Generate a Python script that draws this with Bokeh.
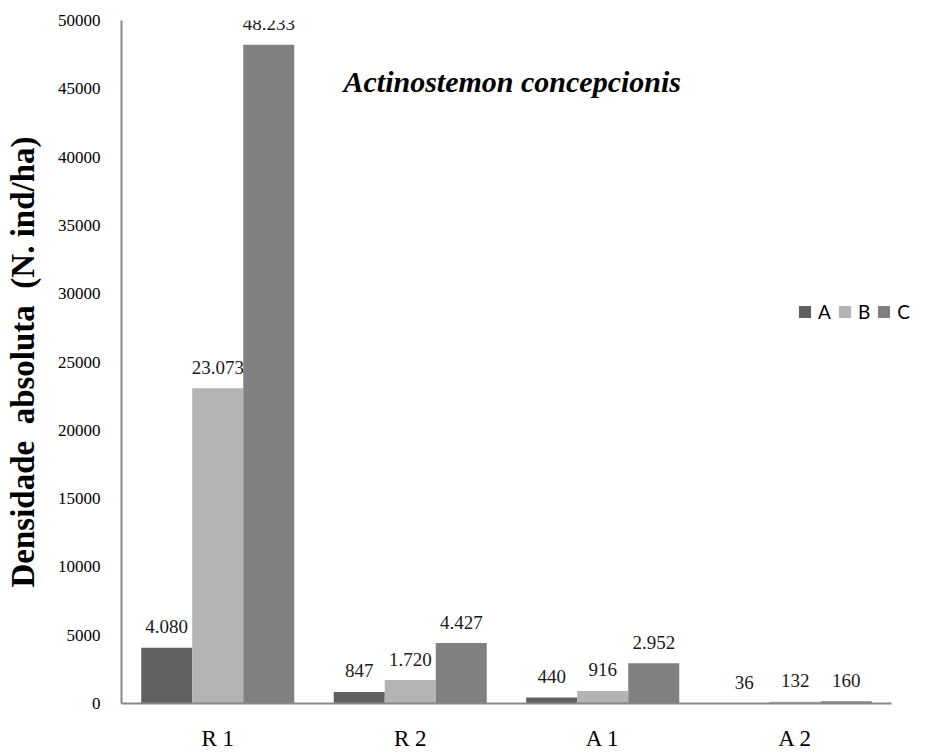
from bokeh.plotting import figure
from bokeh.models import ColumnDataSource, Legend, LegendItem, Label, FixedTicker
from bokeh.transform import dodge
from bokeh.embed import file_html
from bokeh.resources import INLINE
from bokeh.core.properties import value

# ---- data ----
categories = ["R 1", "R 2", "A 1", "A 2"]
series_names = ["A", "B", "C"]
values_A = [4080, 847, 440, 36]
values_B = [23073, 1720, 916, 132]
values_C = [48233, 4427, 2952, 160]
y_ticks = [0, 5000, 10000, 15000, 20000, 25000, 30000, 35000, 40000, 45000, 50000]
title_text = "Actinostemon concepcionis"
y_label = "Densidade \u00a0absoluta \u00a0(N. ind/ha)"

colors = ["#606060", "#b3b3b3", "#808080"]
serif = "Liberation Serif"

# geometry of the page (pixels)
W, H = 924, 753
frame_left, frame_top, axis_right, axis_bottom = 121, 20, 891, 704
n_cat = len(categories)
x_end = n_cat * (W - frame_left) / (axis_right - frame_left)


def fmt(v):
    return f"{v:,}".replace(",", ".")


xpos = [i + 0.5 for i in range(n_cat)]
src = ColumnDataSource(dict(
    x=xpos,
    A=values_A, B=values_B, C=values_C,
    lA=[fmt(v) for v in values_A],
    lB=[fmt(v) for v in values_B],
    lC=[fmt(v) for v in values_C],
))

p = figure(x_range=(0, x_end), y_range=(0, 50000),
           width=W, height=H, output_backend="svg", toolbar_location=None,
           min_border_left=frame_left, min_border_right=0,
           min_border_top=frame_top, min_border_bottom=H - axis_bottom)
p.outline_line_color = None
p.xgrid.grid_line_color = None
p.ygrid.grid_line_color = None

bw = 0.265
offsets = [-bw, 0.0, bw]
renderers = []
for name, col, off in zip(series_names, colors, offsets):
    r = p.vbar(x=dodge("x", off), top=name, width=bw,
               source=src, fill_color=col, line_color=None)
    renderers.append(r)
    p.text(x=dodge("x", off), y=name, text="l" + name,
           source=src, text_align="center", text_baseline="middle",
           y_offset=-21, text_font=value(serif), text_font_size="19px",
           text_color="#1a1a1a")

# axes
for ax in (p.xaxis[0], p.yaxis[0]):
    ax.axis_line_color = "#878787"
    ax.axis_line_width = 2
    ax.major_tick_line_color = None
    ax.minor_tick_line_color = None
    ax.major_tick_out = 0
    ax.major_tick_in = 0
    ax.minor_tick_out = 0
    ax.minor_tick_in = 0
    ax.major_label_text_font = serif
    ax.major_label_text_color = "#000000"

p.xaxis.bounds = (0, n_cat)
p.xaxis.ticker = FixedTicker(ticks=xpos)
p.xaxis.major_label_overrides = {x: c for x, c in zip(xpos, categories)}
p.xaxis.major_label_text_font_size = "23px"
p.xaxis.major_label_standoff = 22

p.yaxis.ticker = FixedTicker(ticks=y_ticks)
p.yaxis.major_label_text_font_size = "17px"
p.yaxis.major_label_standoff = 21
p.yaxis.axis_label = y_label
p.yaxis.axis_label_text_font = serif
p.yaxis.axis_label_text_font_size = "33px"
p.yaxis.axis_label_text_font_style = "bold"
p.yaxis.axis_label_text_color = "#000000"
p.yaxis.axis_label_standoff = 14

# title inside plot
p.add_layout(Label(x=222, y=622, x_units="screen", y_units="screen",
                   text=title_text, text_font=serif, text_font_size="30px",
                   text_font_style="bold italic", text_color="#000000",
                   text_align="left", text_baseline="alphabetic"))

legend = Legend(items=[LegendItem(label=n, renderers=[r])
                       for n, r in zip(series_names, renderers)],
                orientation="horizontal", location=(676, 380),
                glyph_width=15, glyph_height=15, label_standoff=6, spacing=6,
                label_width=0, label_height=15,
                padding=0, margin=0, border_line_color=None,
                background_fill_alpha=0, label_text_font="Lato",
                label_text_font_size="19px", label_text_color="#000000")
p.add_layout(legend)

open("out.html", "w").write(file_html(p, INLINE))
